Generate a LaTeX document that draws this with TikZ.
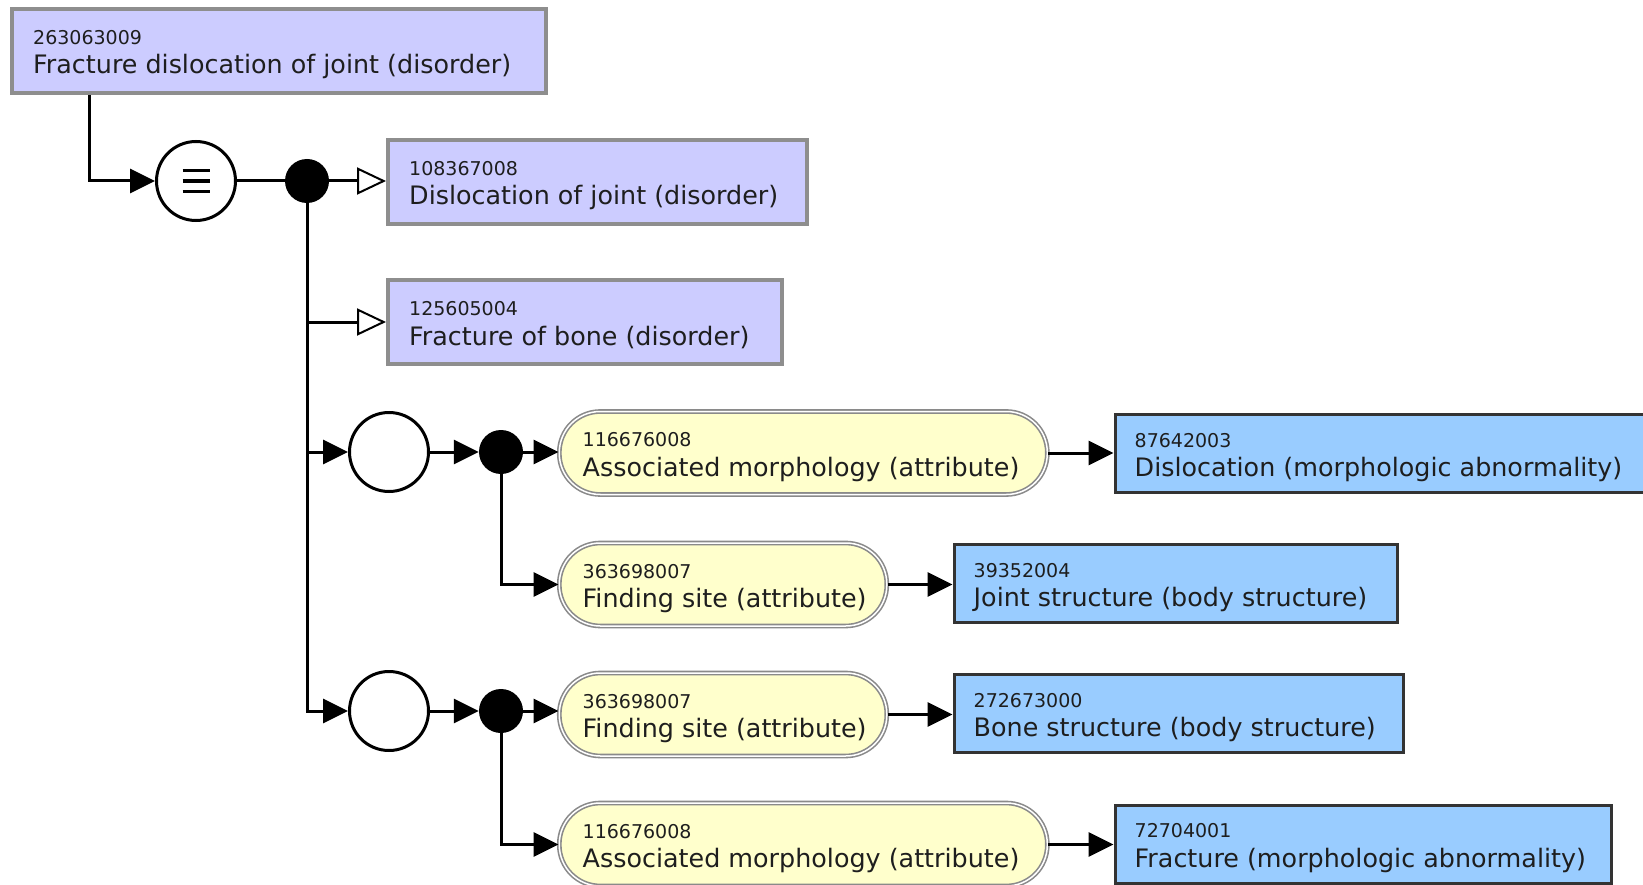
\documentclass[tikz,border=0pt]{standalone}
\usepackage{fontspec}
\setmainfont{DejaVu Sans}
\usetikzlibrary{arrows.meta,calc}

\definecolor{defbg}{HTML}{CCCCFF}
\definecolor{defline}{HTML}{8E8E8E}
\definecolor{attrbg}{HTML}{FFFFCC}
\definecolor{attrline}{HTML}{8A8A8A}
\definecolor{valbg}{HTML}{99CCFF}
\definecolor{valline}{HTML}{333333}
\definecolor{ink}{HTML}{1E1E1E}

\tikzset{
  concept/.style={rectangle, fill=defbg, draw=defline, line width=4pt,
    anchor=west, minimum height=84pt, inner sep=0pt},
  attribute/.style={rectangle, rounded corners=41pt, fill=attrbg, draw=attrline,
    double=white, double distance=1.5pt, line width=1.6pt,
    anchor=west, minimum height=83pt, inner sep=0pt},
  valuebox/.style={rectangle, fill=valbg, draw=valline, line width=3pt,
    anchor=west, minimum height=78pt, inner sep=0pt},
  groupcirc/.style={circle, fill=white, draw=black, line width=3pt,
    minimum size=79pt, inner sep=0pt},
  junction/.style={circle, fill=black, minimum size=44pt, inner sep=0pt},
  idtext/.style={anchor=base west, inner sep=0pt, text=ink,
    font=\fontsize{19}{22}\selectfont},
  nametext/.style={anchor=base west, inner sep=0pt, text=ink,
    font=\fontsize{25.4}{30}\selectfont},
  link/.style={draw=black, line width=3pt},
  arr/.style={link, -{Triangle[length=25pt,width=24pt]}},
  isa/.style={link, -{Triangle[open,length=29pt,width=27pt,line width=2pt,fill=white]}},
}

% two-line caption of a concept box: identifier above, term below
\newcommand\conceptcaption[4]{%
  \node[idtext] (#1-id) at ($(#1.west)+(#2,-6.5)$) {#3};
  \node[nametext] (#1-term) at ($(#1.west)+(#2,23)$) {#4};
}

\begin{document}
\begin{tikzpicture}[x=1pt,y=-1pt]
\clip (0,0) rectangle (1643,885);
\fill[white] (0,0) rectangle (1643,885);

% defined concept and its parents
\node[concept, minimum width=534pt] (root) at (10,51) {};
\conceptcaption{root}{23}{263063009}{Fracture dislocation of joint (disorder)}
\node[concept, minimum width=419pt] (parA) at (386,182) {};
\conceptcaption{parA}{23}{108367008}{Dislocation of joint (disorder)}
\node[concept, minimum width=394pt] (parB) at (386,322) {};
\conceptcaption{parB}{23}{125605004}{Fracture of bone (disorder)}

% definition status and conjunction points
\node[groupcirc] (eqv) at (196,181) {};
\foreach \dy in {-10.5,0,10.5}
  \draw[line width=3.5pt] ($(eqv)+(-13.5,\dy)$) -- ++(27,0);
\node[junction] (conj) at (307,181) {};

% first role group
\node[groupcirc] (grpA) at (389,452) {};
\node[junction] (jA) at (501,452) {};
\node[attribute, minimum width=488pt] (attA1) at (558.5,453) {};
\conceptcaption{attA1}{24}{116676008}{Associated morphology (attribute)}
\node[attribute, minimum width=327.5pt] (attA2) at (558.5,584.5) {};
\conceptcaption{attA2}{24}{363698007}{Finding site (attribute)}
\node[valuebox, minimum width=547pt] (valA1) at (1113.5,453.5) {};
\conceptcaption{valA1}{21}{87642003}{Dislocation (morphologic abnormality)}
\node[valuebox, minimum width=443pt] (valA2) at (952.5,583.5) {};
\conceptcaption{valA2}{21}{39352004}{Joint structure (body structure)}

% second role group
\node[groupcirc] (grpB) at (389,711) {};
\node[junction] (jB) at (501,711) {};
\node[attribute, minimum width=327.5pt] (attB1) at (558.5,714.5) {};
\conceptcaption{attB1}{24}{363698007}{Finding site (attribute)}
\node[attribute, minimum width=488pt] (attB2) at (558.5,844.5) {};
\conceptcaption{attB2}{24}{116676008}{Associated morphology (attribute)}
\node[valuebox, minimum width=449pt] (valB1) at (952.5,713.5) {};
\conceptcaption{valB1}{21}{272673000}{Bone structure (body structure)}
\node[valuebox, minimum width=496.5pt] (valB2) at (1113.5,844) {};
\conceptcaption{valB2}{21}{72704001}{Fracture (morphologic abnormality)}

% connectors
\coordinate (rootfoot) at ($(root.south west)+(79,0)$);
\draw[arr] (rootfoot) |- (eqv);
\draw[link] (eqv) -- (conj);
\draw[isa] (conj) -- (conj -| parA.west);
\draw[arr] (conj) |- (grpB);
\draw[isa] (conj |- parB) -- (parB.west);
\draw[arr] (conj |- grpA) -- (grpA);

\draw[arr] (grpA) -- (jA);
\draw[arr] (jA) -- (jA -| attA1.west);
\draw[arr] (jA) |- (attA2.west);
\draw[arr] (attA1) -- (attA1 -| valA1.west);
\draw[arr] (attA2) -- (attA2 -| valA2.west);

\draw[arr] (grpB) -- (jB);
\draw[arr] (jB) -- (jB -| attB1.west);
\draw[arr] (jB) |- (attB2.west);
\draw[arr] (attB1) -- (attB1 -| valB1.west);
\draw[arr] (attB2) -- (attB2 -| valB2.west);
\end{tikzpicture}
\end{document}
